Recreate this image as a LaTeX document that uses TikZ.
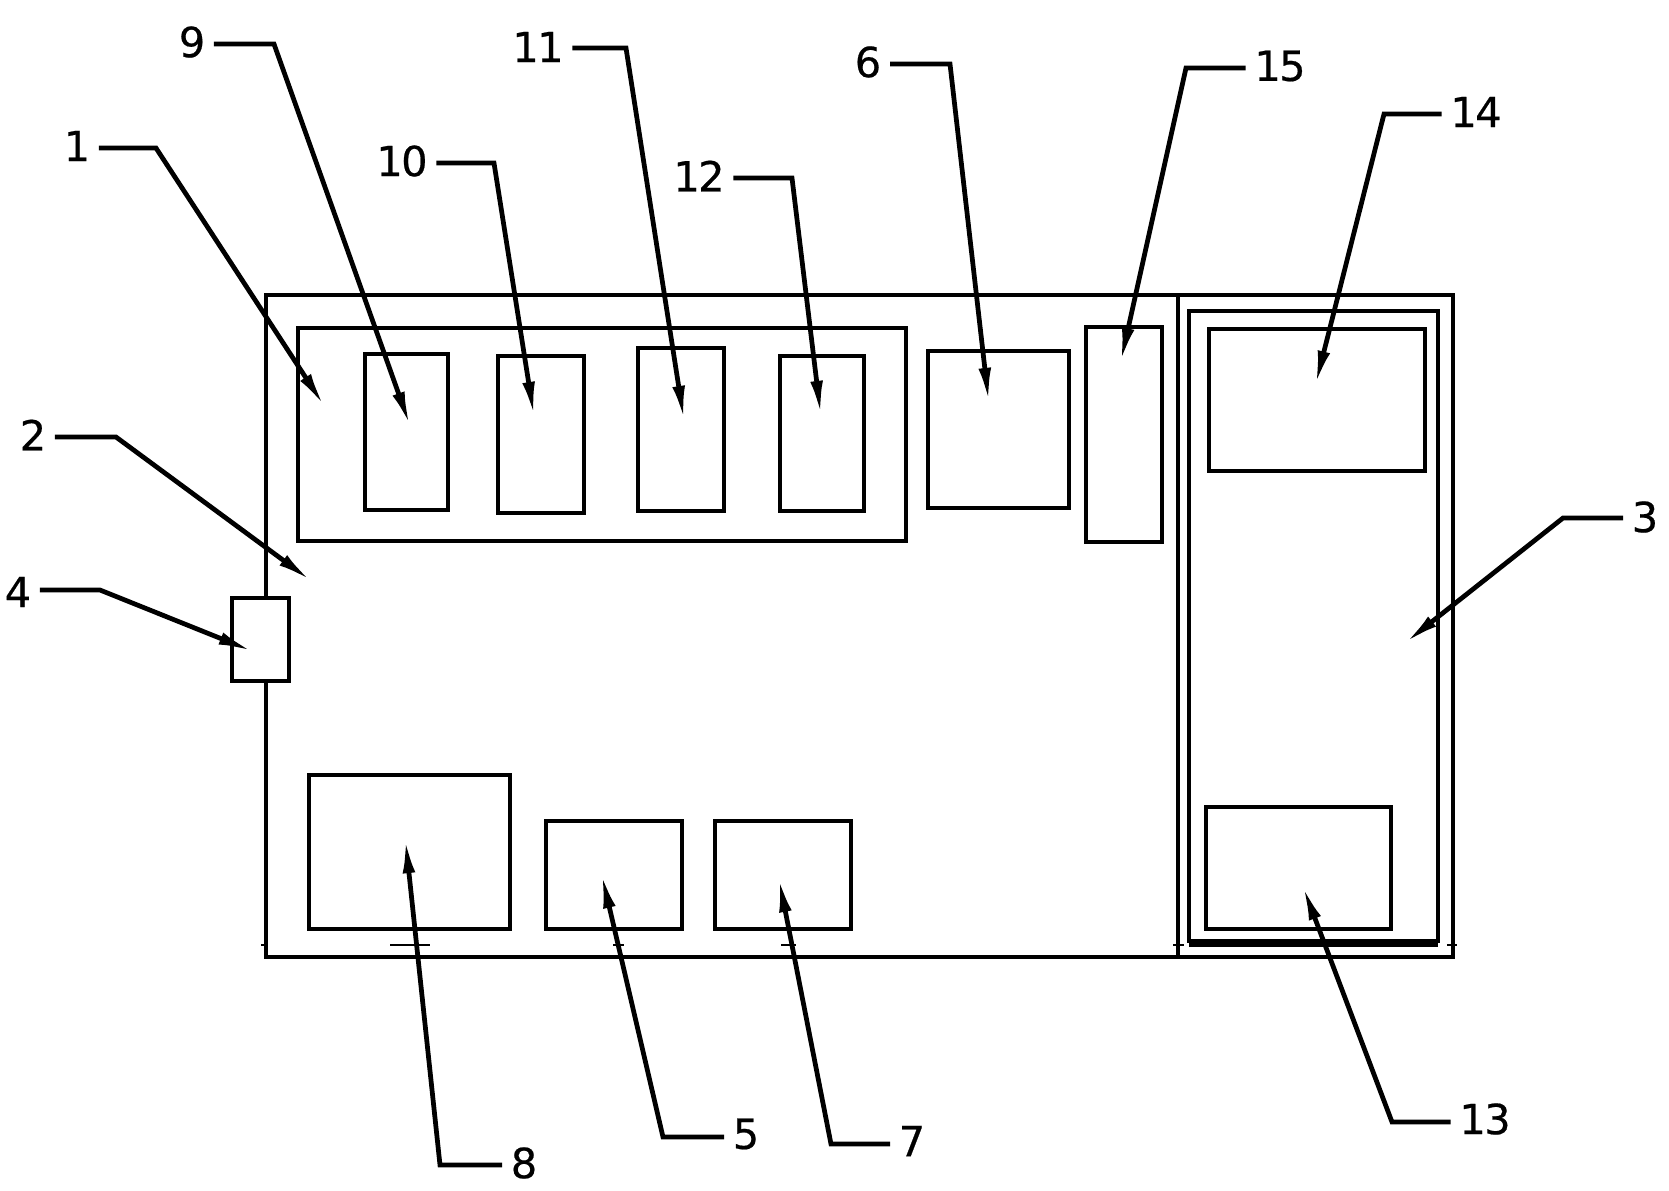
\documentclass[tikz,border=0pt]{standalone}
\usepackage{fontspec}
\setmainfont{DejaVu Sans}[FakeBold=0.5, LetterSpace=-4]
\usetikzlibrary{arrows.meta}

\begin{document}
\begin{tikzpicture}[x=0.01cm, y=-0.01cm,
    part/.style={draw, line width=1.25pt, fill=white},
    tick/.style={line width=0.8pt},
    num/.style={font=\fontsize{11.8}{12}\selectfont, inner sep=0pt, outer sep=2.5pt},
    leader/.style={line width=1.35pt, line join=miter, shorten >=-2pt, -{Latex[length=10pt, width=3.6pt]}}]

        \useasboundingbox (0,0) rectangle (1669,1190);

        % housing and the wall of chamber 3
        \draw[part] (266,295) rectangle (1453,957);
        \draw[part] (1178,295) -- (1178,957);
        \draw[part] (1189,311) rectangle (1438,941);
        \draw[tick, line width=1.25pt] (1189,945) -- (1438,945);

        % small marks along the floor
        \draw[tick] (261,945) -- (266,945);
        \draw[tick] (390,945) -- (430,945);
        \draw[tick] (613,945) -- (624,945);
        \draw[tick] (781,945) -- (796,945);
        \draw[tick] (1173,945) -- (1184,945);
        \draw[tick] (1447,945) -- (1457,945);

        % row inside box 1
        \draw[part] (298,328) rectangle (906,541);
        \draw[part] (365,354) rectangle (448,510);
        \draw[part] (498,356) rectangle (584,513);
        \draw[part] (638,348) rectangle (724,511);
        \draw[part] (780,356) rectangle (864,511);

        \draw[part] (928,351) rectangle (1069,508);
        \draw[part] (1086,327) rectangle (1162,542);
        \draw[part] (1209,329) rectangle (1425,471);
        \draw[part] (1206,807) rectangle (1391,929);

        \draw[part] (232,598) rectangle (289,681);
        \draw[part] (309,775) rectangle (510,929);
        \draw[part] (546,821) rectangle (682,929);
        \draw[part] (715,821) rectangle (851,929);

        % numbers
        \node[num] (n1) at (77,146) {1};
        \node[num] (n2) at (33,435) {2};
        \node[num] (n3) at (1645,517) {3};
        \node[num] (n4) at (18,592) {4};
        \node[num] (n5) at (746,1134) {5};
        \node[num] (n6) at (868,62) {6};
        \node[num] (n7) at (912,1141) {7};
        \node[num] (n8) at (524,1163) {8};
        \node[num] (n9) at (192,42) {9};
        \node[num] (n10) at (402,161) {10};
        \node[num] (n11) at (538,47) {11};
        \node[num] (n12) at (699,176) {12};
        \node[num] (n13) at (1485,1119) {13};
        \node[num] (n14) at (1476,112) {14};
        \node[num] (n15) at (1280,66) {15};

        % knees and tips of the leaders
        \coordinate (k1) at (156,148);
        \coordinate (t1) at (321,401);
        \coordinate (k2) at (116,437);
        \coordinate (t2) at (306,577);
        \coordinate (k3) at (1563,518);
        \coordinate (t3) at (1410,639);
        \coordinate (k4) at (100,590);
        \coordinate (t4) at (247,649);
        \coordinate (k5) at (663,1137);
        \coordinate (t5) at (603,880);
        \coordinate (k6) at (950,64);
        \coordinate (t6) at (988,396);
        \coordinate (k7) at (831,1144);
        \coordinate (t7) at (780,884);
        \coordinate (k8) at (440,1165);
        \coordinate (t8) at (406,845);
        \coordinate (k9) at (274,44);
        \coordinate (t9) at (408,420);
        \coordinate (k10) at (494,163);
        \coordinate (t10) at (533,410);
        \coordinate (k11) at (626,48);
        \coordinate (t11) at (683,414);
        \coordinate (k12) at (792,178);
        \coordinate (t12) at (820,409);
        \coordinate (k13) at (1392,1122);
        \coordinate (t13) at (1305,892);
        \coordinate (k14) at (1384,114);
        \coordinate (t14) at (1317,379);
        \coordinate (k15) at (1186,68);
        \coordinate (t15) at (1122,356);

        \draw[leader] (n1.east |- k1) -- (k1) -- (t1);
        \draw[leader] (n2.east |- k2) -- (k2) -- (t2);
        \draw[leader] (n3.west |- k3) -- (k3) -- (t3);
        \draw[leader] (n4.east |- k4) -- (k4) -- (t4);
        \draw[leader] (n5.west |- k5) -- (k5) -- (t5);
        \draw[leader] (n6.east |- k6) -- (k6) -- (t6);
        \draw[leader] (n7.west |- k7) -- (k7) -- (t7);
        \draw[leader] (n8.west |- k8) -- (k8) -- (t8);
        \draw[leader] (n9.east |- k9) -- (k9) -- (t9);
        \draw[leader] (n10.east |- k10) -- (k10) -- (t10);
        \draw[leader] (n11.east |- k11) -- (k11) -- (t11);
        \draw[leader] (n12.east |- k12) -- (k12) -- (t12);
        \draw[leader] (n13.west |- k13) -- (k13) -- (t13);
        \draw[leader] (n14.west |- k14) -- (k14) -- (t14);
        \draw[leader] (n15.west |- k15) -- (k15) -- (t15);

    \end{tikzpicture}
\end{document}
